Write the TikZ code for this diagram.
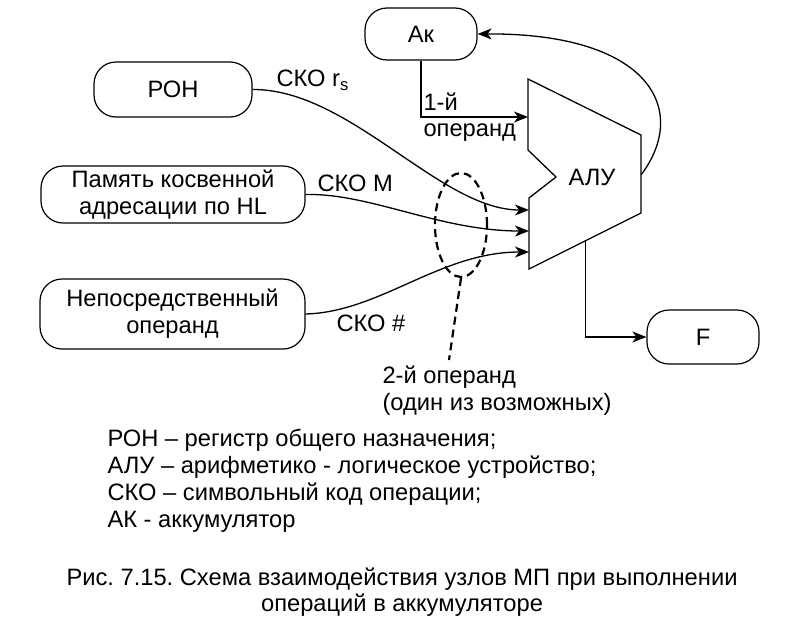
\documentclass[tikz,border=0pt]{standalone}
\usepackage{fontspec}
\setmainfont{Liberation Sans}
\usetikzlibrary{arrows.meta,shapes.geometric}
\frenchspacing
\begin{document}
\begin{tikzpicture}[x=1pt,y=-1pt,
  txt/.style={font=\fontsize{23.7}{27}\selectfont},
  box/.style={draw, line width=1.2pt, rounded corners=22pt, align=center, txt, inner sep=0pt},
  wire/.style={line width=1.3pt},
  arr/.style={wire, -{Stealth[length=14pt,width=11pt,inset=4pt]}},
  dsh/.style={line width=2.2pt, dash pattern=on 8pt off 5pt}]
\useasboundingbox (0,0) rectangle (805,621);
% nodes
\node[box, minimum width=112pt, minimum height=52pt] (ak) at (421,34) {Ак};
\node[box, minimum width=158pt, minimum height=55pt] (ron) at (173,89.5) {РОН};
\node[box, minimum width=264pt, minimum height=57pt] (mem) at (173,194.5) {Память косвенной\\адресации по HL};
\node[box, minimum width=265pt, minimum height=70pt] (imm) at (172.5,314) {Непосредственный\\операнд};
\node[box, minimum width=112pt, minimum height=54pt] (f) at (703,337) {F};
% ALU
\coordinate (a1) at (528,79);
\coordinate (a2) at (641,135);
\coordinate (a3) at (641,213);
\coordinate (a4) at (529,269);
\coordinate (a5) at (529,198);
\coordinate (a6) at (556,177);
\coordinate (a7) at (528,150);
\draw[line width=1.3pt, line join=miter] (a1) -- (a2) -- (a3) -- (a4) -- (a5) -- (a6) -- (a7) -- cycle;
\node[txt] (alu) at (592,177) {АЛУ};
% ports
\coordinate (p1) at (528,117);
\coordinate (in1) at (529,210);
\coordinate (in2) at (529,231);
\coordinate (in3) at (529,252);
\coordinate (outr) at (641,175);
\coordinate (outb) at (585.5,241);
% connectors
\draw[arr] (ak.south) |- (p1);
\node[txt, anchor=west] (l1) at (420,101.5) {1-й};
\node[txt, anchor=west] (l2) at (420,133) {операнд};
\draw[arr] (ron.east) .. controls (350,89) and (440,210) .. (in1);
\draw[arr] (mem.east) .. controls (370,193) and (440,231) .. (in2);
\draw[arr] (imm.east) .. controls (380,312) and (440,252) .. (in3);
\draw[arr] (outr) .. controls (690,110) and (650,33) .. (ak.east);
\draw[arr] (outb) |- (f.west);
\node[txt, anchor=west] (c1) at (273,80) {СКО r\textsubscript{s}};
\node[txt, anchor=west] (c2) at (314,183) {СКО M};
\node[txt, anchor=west] (c3) at (333,323) {СКО \#};
% dashed ellipse
\node[draw, dsh, ellipse, minimum width=52pt, minimum height=104pt, inner sep=0pt] (el) at (461,225) {};
\coordinate (dend) at (449,360);
\draw[dsh] (el.south) -- (dend);
\node[txt, anchor=west, align=left] (second) at (379,391) {2-й операнд\\(один из возможных)};
% legend
\node[txt, anchor=north west, align=left] (leg) at (104,426) {РОН – регистр общего назначения;\\АЛУ – арифметико - логическое устройство;\\СКО – символьный код операции;\\АК - аккумулятор};
\node[align=center, font=\fontsize{23.7}{26}\selectfont] (cap) at (402,592) {Рис. 7.15. Схема взаимодействия узлов МП при выполнении\\операций в аккумуляторе};
\end{tikzpicture}
\end{document}
